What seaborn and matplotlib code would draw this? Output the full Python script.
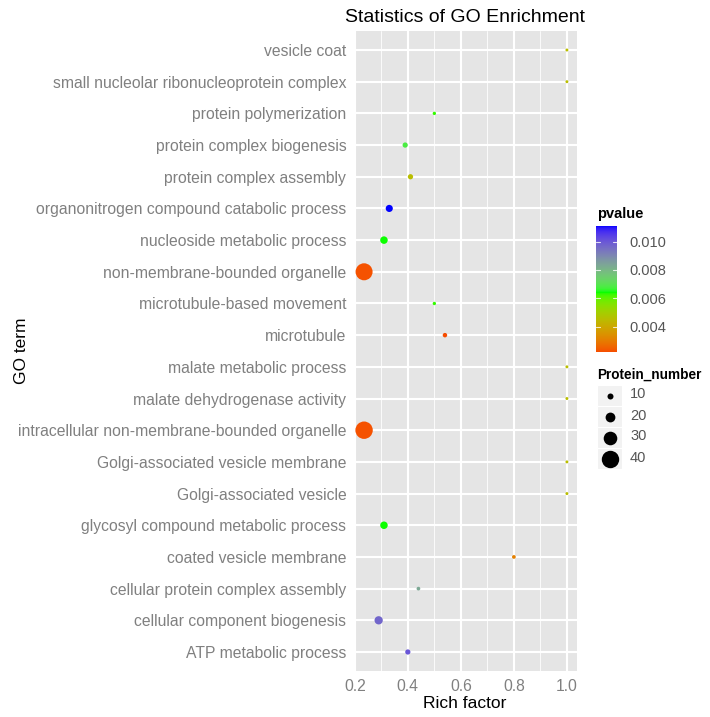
import numpy as np
import pandas as pd
import matplotlib
matplotlib.use("Agg")
import matplotlib.pyplot as plt
import seaborn as sns
from matplotlib.colors import ListedColormap, Normalize
from matplotlib.patches import Rectangle
import matplotlib.colorbar as mcolorbar

# ---------------- data (top to bottom as in the chart) ----------------
terms = [
    "vesicle coat",
    "small nucleolar ribonucleoprotein complex",
    "protein polymerization",
    "protein complex biogenesis",
    "protein complex assembly",
    "organonitrogen compound catabolic process",
    "nucleoside metabolic process",
    "non-membrane-bounded organelle",
    "microtubule-based movement",
    "microtubule",
    "malate metabolic process",
    "malate dehydrogenase activity",
    "intracellular non-membrane-bounded organelle",
    "Golgi-associated vesicle membrane",
    "Golgi-associated vesicle",
    "glycosyl compound metabolic process",
    "coated vesicle membrane",
    "cellular protein complex assembly",
    "cellular component biogenesis",
    "ATP metabolic process",
]
rich_factor = [1.0, 1.0, 0.50, 0.39, 0.41, 0.33, 0.31, 0.235, 0.50, 0.54,
               1.0, 1.0, 0.235, 1.0, 1.0, 0.31, 0.80, 0.44, 0.29, 0.40]
pvalue = [0.0045, 0.0045, 0.0063, 0.0068, 0.0045, 0.0111, 0.0064, 0.0023, 0.0063, 0.0022,
          0.0045, 0.0045, 0.0023, 0.0045, 0.0045, 0.0064, 0.0031, 0.0083, 0.0097, 0.0100]
protein_number = [2, 2, 3, 8, 8, 13, 14, 39, 3, 6,
                  2, 2, 40, 2, 2, 14, 4, 4, 16, 8]
size_breaks = [10, 20, 30, 40]
pvalue_breaks = [0.004, 0.006, 0.008, 0.010]
pvalue_labels = ["0.004", "0.006", "0.008", "0.010"]
x_ticks = [0.2, 0.4, 0.6, 0.8, 1.0]
x_minor = [0.3, 0.5, 0.7, 0.9]

df = pd.DataFrame({"term": terms, "rich": rich_factor,
                   "pvalue": pvalue, "protein": protein_number})

# ---------------- colour scale: red - green - blue in Lab ----------------
def _f(t):
    return np.where(t > 0.008856, np.cbrt(t), 7.787 * t + 16 / 116)

def to_lab(c):
    c = np.asarray(c, float)
    lin = np.where(c <= 0.04045, c / 12.92, ((c + 0.055) / 1.055) ** 2.4)
    M = np.array([[0.4124, 0.3576, 0.1805],
                  [0.2126, 0.7152, 0.0722],
                  [0.0193, 0.1192, 0.9505]])
    xyz = M @ lin / np.array([0.95047, 1.0, 1.08883])
    f = _f(xyz)
    return np.array([116 * f[1] - 16, 500 * (f[0] - f[1]), 200 * (f[1] - f[2])])

def from_lab(lab):
    L, a, b = lab
    fy = (L + 16) / 116
    fx = fy + a / 500
    fz = fy - b / 200
    def inv(t):
        return np.where(t ** 3 > 0.008856, t ** 3, (t - 16 / 116) / 7.787)
    xyz = np.array([inv(fx), inv(fy), inv(fz)]) * np.array([0.95047, 1.0, 1.08883])
    Minv = np.array([[3.2406, -1.5372, -0.4986],
                     [-0.9689, 1.8758, 0.0415],
                     [0.0557, -0.2040, 1.0570]])
    lin = np.clip(Minv @ xyz, 0, 1)
    c = np.where(lin <= 0.0031308, 12.92 * lin, 1.055 * lin ** (1 / 2.4) - 0.055)
    return np.clip(c, 0, 1)

low, mid, high = to_lab([1, 0, 0]), to_lab([0, 1, 0]), to_lab([0, 0, 1])
vmin, vmax, vmid = 0.0022, 0.0111, 0.0064
span = max(vmax - vmid, vmid - vmin)
cols = []
for p in np.linspace(vmin, vmax, 256):
    t = 0.5 + 0.5 * (p - vmid) / span
    if t < 0.5:
        lab = low + (mid - low) * (t / 0.5)
    else:
        lab = mid + (high - mid) * ((t - 0.5) / 0.5)
    cols.append(from_lab(lab))
cmap = ListedColormap(cols)
norm = Normalize(vmin=vmin, vmax=vmax)

# ---------------- sizes: diameter grows linearly with count ----------------
def diam_px(v):
    return 2.2 + 0.38 * v

all_sizes = sorted(set(protein_number) | set(size_breaks))
sizes = {v: (diam_px(v) * 0.72) ** 2 for v in all_sizes}

# ---------------- figure ----------------
sns.set_style("white")
plt.rcParams["font.family"] = ["Liberation Sans", "DejaVu Sans"]

W, H = 710, 717
fig = plt.figure(figsize=(W / 100, H / 100), dpi=100)
ax = fig.add_axes([354 / W, 1 - 671 / H, 223 / W, 640 / H])
ax.set_facecolor("#E5E5E5")

sns.scatterplot(data=df, x="rich", y="term", hue="pvalue", palette=cmap,
                hue_norm=norm, size="protein", sizes=sizes, linewidth=0,
                legend=False, ax=ax, zorder=3)

n = len(terms)
ax.set_ylim(n - 0.4, -0.6)
ax.set_xlim(0.197, 1.038)
ax.set_xticks(x_ticks)
ax.set_xticklabels([f"{t:.1f}" for t in x_ticks])
ax.set_xticks(x_minor, minor=True)
ax.grid(which="major", color="white", lw=1.5, zorder=0)
ax.grid(which="minor", axis="x", color="white", lw=0.6, zorder=0)
ax.set_axisbelow(True)
for s in ax.spines.values():
    s.set_visible(False)
ax.tick_params(which="major", length=3.5, width=1.0, color="#666666",
               labelcolor="#808080", labelsize=11.3, pad=2)
ax.tick_params(which="minor", length=0)
ax.set_xlabel("")
ax.set_ylabel("")

fig.text(465 / W, 1 - 18 / H, "Statistics of GO Enrichment", ha="center",
         va="center", fontsize=14, color="black")
fig.text(465 / W, 1 - 703 / H, "Rich factor", ha="center", va="center",
         fontsize=12.5, color="black")
fig.text(22 / W, 1 - 351 / H, "GO term", ha="center", va="center",
         rotation=90, fontsize=12.5, color="black")

# ---------------- colour bar legend ----------------
cax = fig.add_axes([596 / W, 1 - 352 / H, 21 / W, 126 / H])
cb = mcolorbar.ColorbarBase(cax, cmap=cmap, norm=norm, orientation="vertical")
cb.outline.set_visible(False)
cb.set_ticks(pvalue_breaks)
cb.set_ticklabels(pvalue_labels)
cax.tick_params(length=0, labelcolor="#555555", labelsize=10.5, pad=9)
for b in pvalue_breaks:
    cax.plot([0, 0.2], [b, b], color="white", lw=0.8, alpha=0.8)
    cax.plot([0.8, 1], [b, b], color="white", lw=0.8, alpha=0.8)
fig.text(597 / W, 1 - 214 / H, "pvalue", ha="left", va="center",
         fontsize=10.5, fontweight="bold", color="black")

# ---------------- size legend ----------------
fig.text(597 / W, 1 - 375 / H, "Protein_number", ha="left", va="center",
         fontsize=9.8, fontweight="bold", color="black")
lax = fig.add_axes([597 / W, 1 - 469 / H, 25 / W, 84 / H])
lax.set_xlim(0, 1)
lax.set_ylim(len(size_breaks), 0)
lax.axis("off")
for i, v in enumerate(size_breaks):
    lax.add_patch(Rectangle((0, i), 1, 1, facecolor="#F2F2F2",
                            edgecolor="white", lw=0.8))
    lax.scatter([0.5], [i + 0.5], s=sizes[v], color="black", linewidth=0)
    fig.text(630 / W, 1 - (384 + 21 * i + 10.5) / H, str(v), ha="left",
             va="center", fontsize=10.5, color="#555555")

fig.savefig("out.png", dpi=100)
